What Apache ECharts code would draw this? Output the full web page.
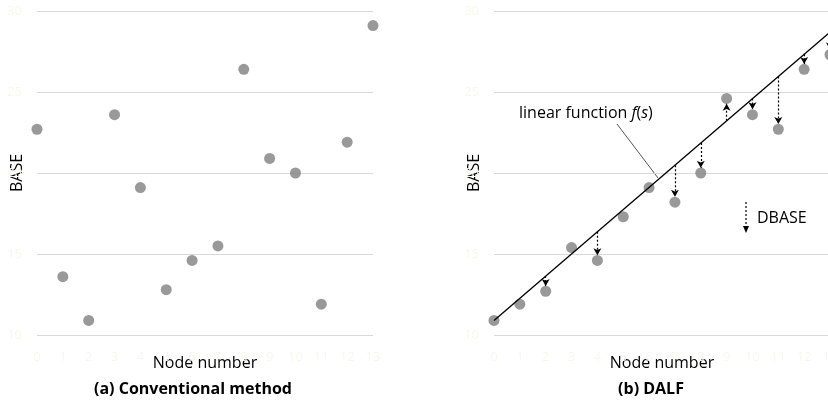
<!DOCTYPE html>
<html><head><meta charset="utf-8">
<script src="https://cdn.jsdelivr.net/npm/echarts@6/dist/echarts.min.js"></script>
<style>html,body{margin:0;padding:0;background:#fff}#c{width:828px;height:411px}</style>
</head><body><div id="c"></div>
<script>
// ---- data ----
const nodeNumbers = [0,1,2,3,4,5,6,7,8,9,10,11,12,13];
const conventionalBase = [22.7,13.6,10.9,23.6,19.1,12.8,14.6,15.5,26.4,20.9,20.0,11.9,21.9,29.1];
const dalfBase = [10.9,11.9,12.7,15.4,14.6,17.3,19.1,18.2,20.0,24.6,23.6,22.7,26.4,27.3];
const linearStart = [0, 10.9];
const linearEnd = [13, 28.7];
const dbaseNodes = [2,4,7,8,9,10,11,12,13];
const yMin = 10, yMax = 30, yStep = 5;
const xMin = 0, xMax = 13, xStep = 1;

const FONT = '"Open Sans", Lato, sans-serif';
const faint = '#f6f8ef';
const slope = (linearEnd[1]-linearStart[1])/(linearEnd[0]-linearStart[0]);
const f = s => linearStart[1] + slope*(s-linearStart[0]);
const tipGap = 0.33;

function xAx(gi){
  return {gridIndex:gi,type:'value',min:xMin,max:xMax,interval:xStep,
    axisLine:{show:false},axisTick:{show:false},splitLine:{show:false},
    axisLabel:{color:faint,fontSize:13,fontFamily:FONT,margin:16},
    name:'Node number',nameLocation:'middle',nameGap:20,nameMoveOverlap:false,
    nameTextStyle:{color:'#000',fontSize:16,fontFamily:FONT,backgroundColor:'#fff',padding:[0,4]}};
}
function yAx(gi){
  return {gridIndex:gi,type:'value',min:yMin,max:yMax,interval:yStep,
    axisLine:{show:false},axisTick:{show:false},
    splitLine:{show:true,lineStyle:{color:'#d9d9d9',width:1}},
    axisLabel:{color:faint,fontSize:13,fontFamily:FONT,margin:15},
    name:'BASE',nameLocation:'middle',nameGap:12,nameRotate:90,nameMoveOverlap:false,
    nameTextStyle:{color:'#000',fontSize:16,fontFamily:FONT,backgroundColor:'#fff',padding:[0,2]}};
}

const arrowData = dbaseNodes.map(i=>{
  const v = dalfBase[i], l = f(i);
  const tip = v < l ? v + tipGap : v - tipGap;
  return [{coord:[i,l]},{coord:[i,tip]}];
});

const chart = echarts.init(document.getElementById('c'));
chart.setOption({
  animation:false,
  backgroundColor:'#fff',
  grid:[{left:37,top:11,width:336,height:324,containLabel:false,outerBoundsMode:'none'},
        {left:494,top:11,width:336,height:324,containLabel:false,outerBoundsMode:'none'}],
  xAxis:[xAx(0),xAx(1)],
  yAxis:[yAx(0),yAx(1)],
  series:[
    {type:'scatter',xAxisIndex:0,yAxisIndex:0,symbolSize:11,itemStyle:{color:'#7f7f7f'},
      data:nodeNumbers.map((n,i)=>[n,conventionalBase[i]])},
    {type:'line',xAxisIndex:1,yAxisIndex:1,symbol:'none',lineStyle:{color:'#000',width:1.3},
      data:[linearStart,linearEnd],z:3},
    {type:'scatter',xAxisIndex:1,yAxisIndex:1,symbolSize:11,itemStyle:{color:'#7f7f7f'},z:2,
      data:nodeNumbers.map((n,i)=>[n,dalfBase[i]]),
      markLine:{silent:true,symbol:['none','arrow'],symbolSize:[6,7],label:{show:false},
        lineStyle:{color:'#000',type:[2,2],width:1.2},data:arrowData}}
  ],
  graphic:[
    {type:'text',x:193,y:389,style:{text:'(a) Conventional method',font:'bold 16px '+FONT,fill:'#000',align:'center',verticalAlign:'middle'}},
    {type:'text',x:651,y:389,style:{text:'(b) DALF',font:'bold 16px '+FONT,fill:'#000',align:'center',verticalAlign:'middle'}},
    {type:'text',x:519,y:113,style:{text:'{n|linear function }{i|f}{n|(}{i|s}{n|)}',verticalAlign:'middle',
      rich:{n:{fontSize:16,fontFamily:FONT,fill:'#000'},i:{fontSize:16,fontFamily:FONT,fontStyle:'italic',fill:'#000'}}}},
    {type:'line',shape:{x1:617,y1:124,x2:658,y2:178},style:{stroke:'#555',lineWidth:1}},
    {type:'line',shape:{x1:746,y1:202,x2:746,y2:227},style:{stroke:'#000',lineWidth:1.2,lineDash:[2,2]}},
    {type:'polygon',shape:{points:[[743,226],[749,226],[746,233]]},style:{fill:'#000'}},
    {type:'text',x:757,y:218,style:{text:'DBASE',font:'16px '+FONT,fill:'#000',verticalAlign:'middle'}}
  ]
});
</script></body></html>
